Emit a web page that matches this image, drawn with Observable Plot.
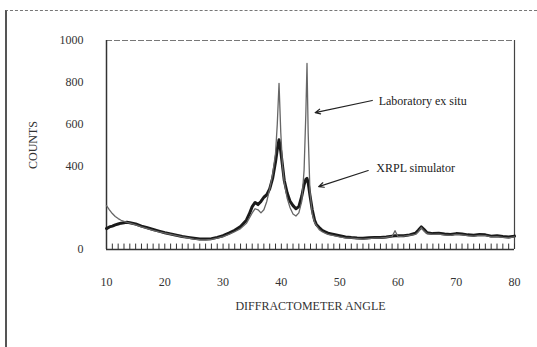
<!DOCTYPE html>
<html><head><meta charset="utf-8">
<script src="https://cdn.jsdelivr.net/npm/d3@7"></script>
<script src="https://cdn.jsdelivr.net/npm/@observablehq/plot@0.6"></script>
<style>
body{margin:0;background:#fff;}
#wrap{position:relative;width:537px;height:347px;overflow:hidden;}
#border{position:absolute;left:5px;top:10px;width:540px;height:340px;border-top:1px dashed #777;border-left:2px solid #555;}
</style></head>
<body><div id="wrap"><div id="border"></div></div>
<script>
const angles = [10,10.5,11,11.5,12,12.5,13,13.5,14,15,16,17,18,19,20,21,22,23,24,25,26,27,28,29,30,31,32,33,34,34.5,35,35.5,36,36.5,37,37.5,38,38.5,39,39.3,39.6,39.9,40.2,40.5,41,41.5,42,42.5,43,43.5,43.9,44.2,44.4,44.6,44.9,45.3,45.7,46,46.5,47,47.5,48,49,50,51,52,53,54,55,56,57,58,59,59.5,60,61,62,63,63.5,64,64.5,65,66,67,68,69,70,71,72,73,74,75,76,77,78,79,80];
const labExSitu = [210,190,172,158,148,140,135,130,126,118,108,100,92,84,78,72,66,60,55,50,47,46,48,54,62,72,85,100,125,150,175,195,190,175,190,230,290,360,460,600,795,560,400,320,245,200,170,160,175,230,380,650,890,560,280,170,130,115,95,85,78,72,66,60,56,54,52,50,52,54,55,58,62,90,62,64,68,72,85,105,88,76,72,74,70,68,72,70,66,64,68,66,60,62,58,56,60];
const xrplSim = [100,108,112,118,122,126,128,130,128,122,112,104,96,88,80,74,68,62,58,54,50,50,52,58,66,78,92,110,140,170,205,225,215,230,250,262,290,340,420,480,525,470,400,330,270,230,210,195,205,255,310,335,340,320,260,190,140,120,105,92,85,78,72,66,60,57,55,54,56,58,57,60,64,66,66,66,70,78,92,108,95,80,76,78,74,72,76,74,70,68,72,70,64,66,62,60,64];
const xTicks = [10,20,30,40,50,60,70,80];
const yTicks = [0,400,600,800,1000];
const minorTicks = d3.range(10, 81, 1);
const labels = [
  {text:"Laboratory ex situ", x:56.7, y:708, x1:55.6, y1:713, x2:45.8, y2:655},
  {text:"XRPL simulator", x:56.3, y:388, x1:54.9, y1:378, x2:46.4, y2:301}
];

const lab = angles.map((a,i)=>({a, v:labExSitu[i]}));
const sim = angles.map((a,i)=>({a, v:xrplSim[i]}));

const chart = Plot.plot({
  width: 537, height: 347,
  marginLeft: 106, marginRight: 23, marginTop: 40, marginBottom: 98,
  style: {fontFamily: "Liberation Serif, serif", fontSize: "12px", color: "#333", background: "transparent"},
  x: {domain: [10, 80], ticks: xTicks, tickSize: 0, tickPadding: 28, tickFormat: d=>String(d), label: "DIFFRACTOMETER ANGLE", labelAnchor: "center", labelOffset: 60, labelArrow: "none"},
  y: {domain: [0, 1000], ticks: yTicks, tickSize: 0, tickPadding: 23, tickFormat: d=>String(d), label: "COUNTS", labelAnchor: "center", labelArrow: "none", labelOffset: 78},
  marks: [
    Plot.ruleY([1000], {stroke: "#777", strokeDasharray: "6,2"}),
    Plot.ruleX([10], {stroke: "#333", strokeWidth: 1.5}),
    Plot.ruleX([80], {stroke: "#444", strokeWidth: 1.2}),
    Plot.ruleX(minorTicks, {x: d=>d, y1: 0, y2: 26, stroke: "#333", strokeWidth: 1}),
    Plot.ruleY([0], {stroke: "#333", strokeWidth: 1.5}),
    Plot.line(sim, {x: "a", y: "v", stroke: "#1a1a1a", strokeWidth: 3, curve: "linear"}),
    Plot.line(lab, {x: "a", y: "v", stroke: "#666", strokeWidth: 1.3, curve: "linear"}),
    Plot.arrow(labels, {x1: "x1", y1: "y1", x2: "x2", y2: "y2", stroke: "#222", strokeWidth: 1.2, headLength: 7, headAngle: 50}),
    Plot.text(labels, {x: "x", y: "y", text: "text", textAnchor: "start", fill: "#222", fontSize: 12})
  ]
});
document.getElementById("wrap").appendChild(chart);
chart.style.position = "absolute";
chart.style.left = "0px";
chart.style.top = "0px";
</script></body></html>
